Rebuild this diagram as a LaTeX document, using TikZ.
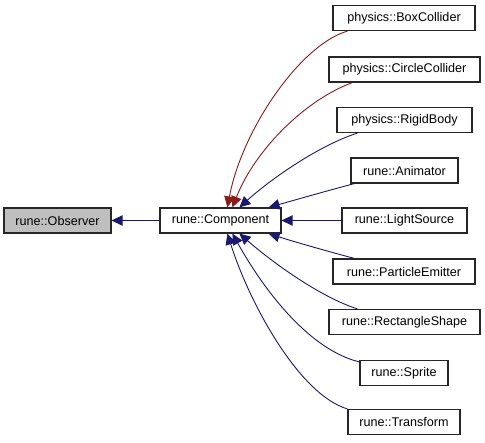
\documentclass[tikz,border=0pt]{standalone}
\usepackage{fontspec}
\setmainfont{Liberation Sans}
\usetikzlibrary{arrows.meta}
\definecolor{edgeblue}{HTML}{191970}
\definecolor{edgered}{HTML}{8B1A1A}
\definecolor{boxgray}{HTML}{BFBFBF}
\begin{document}
\begin{tikzpicture}[x=1pt,y=-1pt,
  cls/.style={draw=black!85,line width=1.2pt,fill=white,minimum height=25pt,inner xsep=4pt,inner ysep=0pt,font=\fontsize{12.6}{14}\selectfont},
  cur/.style={cls,fill=boxgray},
  inh/.style={draw=edgeblue,line width=0.9pt,-{Triangle[length=11pt,width=10.5pt]}},
  inhred/.style={draw=edgered,line width=0.9pt,-{Triangle[length=11pt,width=10.5pt]}}]
\useasboundingbox (0,0) rectangle (485,443);
\node[cur,minimum width=107pt] (obs) at (57.5,220.5) {rune::Observer};
\node[cls,minimum width=121pt] (comp) at (220.5,220.5) {rune::Component};
\node[cls,minimum width=142pt] (bc) at (404,18) {physics::BoxCollider};
\node[cls,minimum width=151pt] (cc) at (404.5,69.5) {physics::CircleCollider};
\node[cls,minimum width=135pt] (rb) at (404.5,120) {physics::RigidBody};
\node[cls,minimum width=107pt] (an) at (404.5,170.5) {rune::Animator};
\node[cls,minimum width=125pt] (ls) at (404.5,220.5) {rune::LightSource};
\node[cls,minimum width=142pt] (pe) at (404,271.5) {rune::ParticleEmitter};
\node[cls,minimum width=151pt] (rs) at (404.5,322) {rune::RectangleShape};
\node[cls,minimum width=88pt] (sp) at (404,373) {rune::Sprite};
\node[cls,minimum width=112pt] (tf) at (404,422) {rune::Transform};
\draw[inh] (comp.west) -- (obs.east);
\draw[inhred] ([xshift=15pt]bc.south west) .. controls (300,45) and (242,130) .. ([xshift=68pt]comp.north west);
\draw[inhred] ([xshift=24pt]cc.south west) .. controls (305,100) and (255,150) .. ([xshift=73pt]comp.north west);
\draw[inh] ([xshift=21pt]rb.south west) .. controls (320,145) and (272,178) .. ([xshift=80pt]comp.north west);
\draw[inh] ([xshift=4pt]an.south west) .. controls (330,190) and (295,200) .. ([xshift=-13pt]comp.north east);
\draw[inh] (ls.west) -- (comp.east);
\draw[inh] ([xshift=22pt]pe.north west) .. controls (330,252) and (295,242) .. ([xshift=-13pt]comp.south east);
\draw[inh] ([xshift=29pt]rs.north west) .. controls (320,297) and (272,262) .. ([xshift=80pt]comp.south west);
\draw[inh] ([yshift=-2pt]sp.north west) .. controls (310,350) and (265,292) .. ([xshift=73pt]comp.south west);
\draw[inh] (tf.north west) .. controls (300,395) and (250,305) .. ([xshift=68pt]comp.south west);
\end{tikzpicture}
\end{document}
